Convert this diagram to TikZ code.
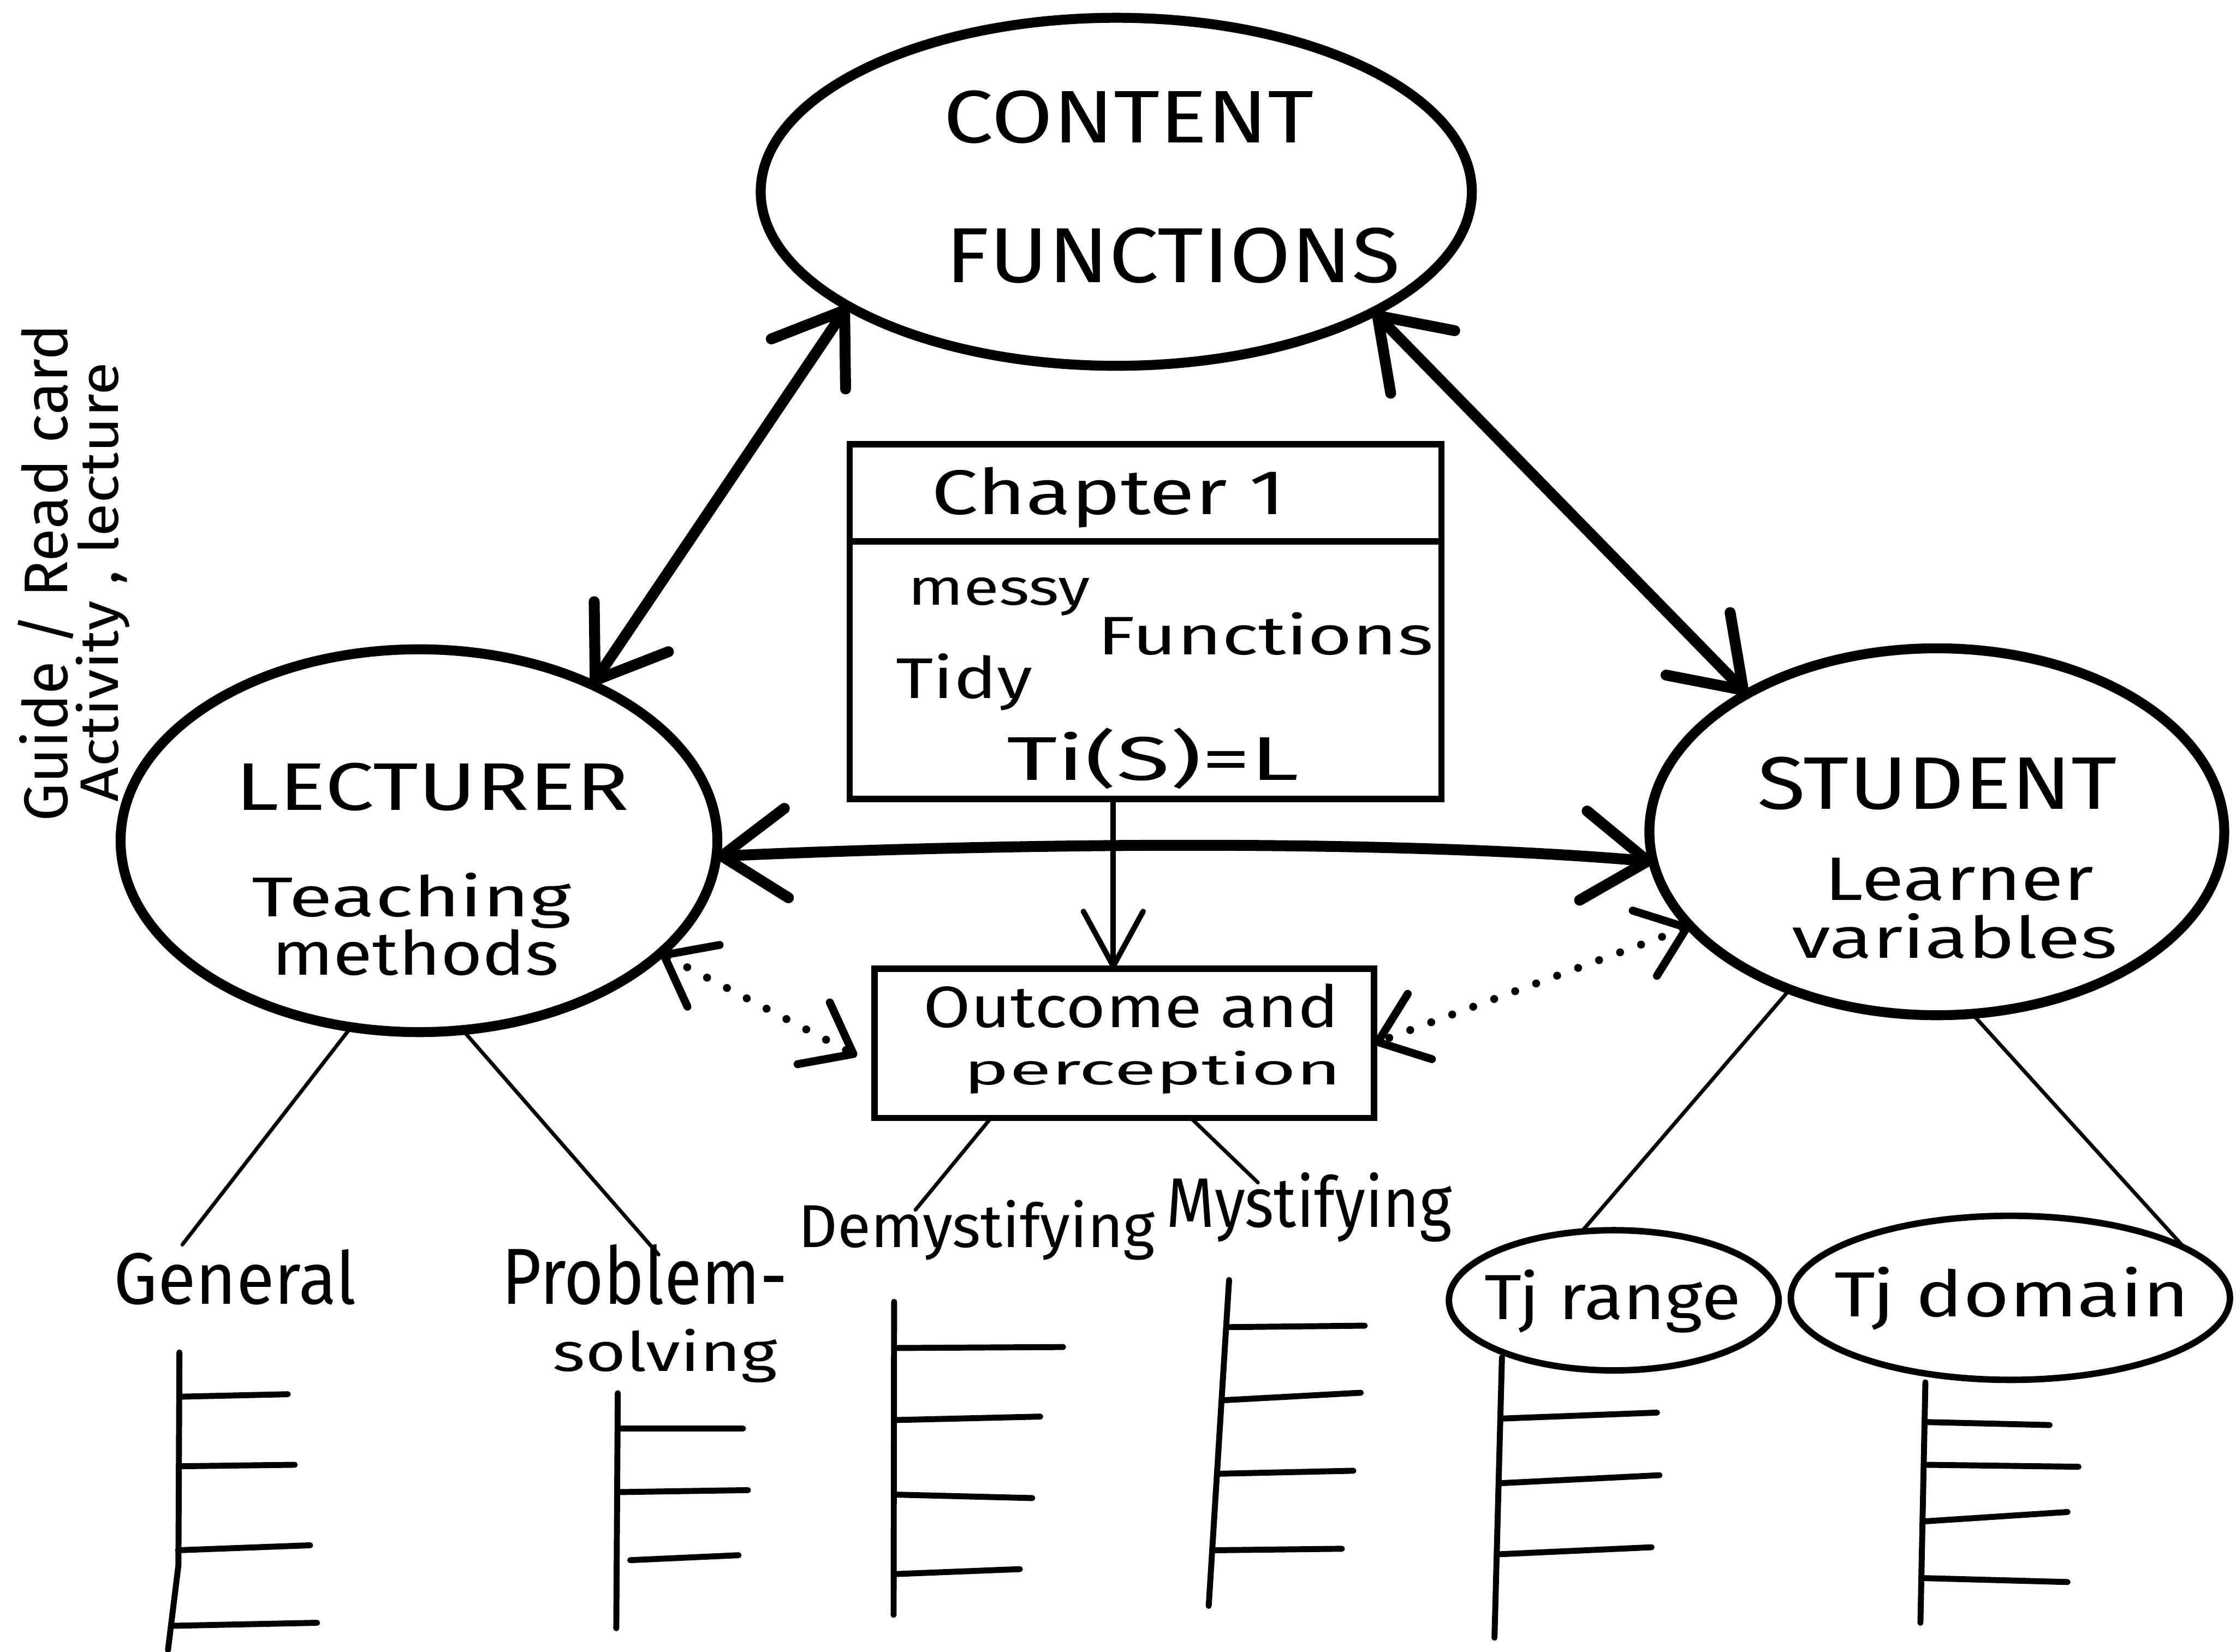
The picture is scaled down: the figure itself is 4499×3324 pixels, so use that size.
\documentclass[tikz,border=0pt]{standalone}
\usepackage{fontspec}
\setmainfont{Fira Sans}
\usetikzlibrary{arrows.meta,shapes.geometric}
\newcommand{\tx}[3]{\resizebox{#1}{#2}{#3}}
\begin{document}
\begin{tikzpicture}[x=0.01cm,y=-0.01cm,
  bub/.style={ellipse,draw,line width=0.2cm,inner sep=0,outer sep=0},
  sbub/.style={ellipse,draw,line width=0.13cm,inner sep=0,outer sep=0},
  boxn/.style={rectangle,draw,line width=0.13cm,inner sep=0,outer sep=0},
  lbl/.style={inner sep=0,outer sep=0,anchor=base},
  bigarrow/.style={line width=0.22cm,<->,>={Straight Barb[length=1.3cm,width=1.8cm,round]}},
  dotarrow/.style={line width=0.16cm,line cap=round,dash pattern=on 0pt off 0.45cm,<->,>={Straight Barb[length=0.9cm,width=1.4cm,round]}},
  vertarrow/.style={line width=0.11cm,->,>={Straight Barb[length=1.1cm,width=1.2cm,round]}},
  tree/.style={line width=0.075cm,line cap=round},
  comb/.style={line width=0.12cm,line cap=round}]
\fill[white] (0,0) rectangle (4499,3324);
\useasboundingbox (0,0) rectangle (4499,3324);

% main bubbles
\node[bub,minimum width=14.3cm,minimum height=7.0cm] (content) at (2246,386) {};
\node[lbl] (tcontent) at (2271,287) {\tx{7.45cm}{1.05cm}{CONTENT}};
\node[lbl] (tfunc) at (2360,568) {\tx{9.13cm}{1.1cm}{FUNCTIONS}};

\node[bub,minimum width=12.0cm,minimum height=7.7cm] (lecturer) at (843,1692) {};
\node[lbl] (tlect) at (870,1630) {\tx{7.91cm}{0.95cm}{LECTURER}};
\node[lbl] (tteach) at (828,1845) {\tx{6.42cm}{0.88cm}{Teaching}};
\node[lbl] (tmeth) at (836,1962) {\tx{5.77cm}{0.92cm}{methods}};

\node[bub,minimum width=11.56cm,minimum height=7.38cm] (student) at (3897,1674) {};
\node[lbl] (tstud) at (3898,1628) {\tx{7.23cm}{1.05cm}{STUDENT}};
\node[lbl] (tlearn) at (3942,1812) {\tx{5.4cm}{0.85cm}{Learner}};
\node[lbl] (tvar) at (3933,1928) {\tx{6.54cm}{0.9cm}{variables}};

% chapter box
\node[boxn,minimum width=11.9cm,minimum height=7.13cm] (chapter) at (2305,1251) {};
\draw[line width=0.13cm] ([yshift=-1.95cm]chapter.north west) -- ([yshift=-1.95cm]chapter.north east);
\node[lbl] (tchap) at (2230,1035) {\tx{7.11cm}{0.95cm}{Chapter 1}};
\node[lbl] (tmessy) at (2010,1218) {\tx{3.66cm}{0.55cm}{messy}};
\node[lbl] (tfuncs) at (2546,1318) {\tx{6.75cm}{0.85cm}{Functions}};
\node[lbl] (ttidy) at (1940,1405) {\tx{2.74cm}{0.9cm}{Tidy}};
\node[lbl] (tform) at (2320,1570) {\tx{5.88cm}{1.05cm}{Ti(S)=L}};

% outcome box
\node[boxn,minimum width=10.05cm,minimum height=3.0cm] (outcome) at (2262,2100) {};
\node[lbl] (tout) at (2276,2068) {\tx{8.35cm}{0.88cm}{Outcome and}};
\node[lbl] (tperc) at (2319,2183) {\tx{7.59cm}{0.68cm}{perception}};

% arrows
\draw[bigarrow] (content.203) -- (lecturer.42);
\draw[bigarrow] (content.335) -- (student.144);
\draw[bigarrow] (lecturer.357) .. controls (1950,1700) and (2750,1685) .. (student.186);
\draw[vertarrow] ([xshift=-0.65cm]chapter.south) -- ([xshift=-0.65cm]chapter.south |- outcome.north);
\draw[dotarrow] (lecturer.335) -- ([xshift=-0.35cm,yshift=-0.25cm]outcome.west);
\draw[dotarrow] (student.201) -- (outcome.east);

% sub labels
\node[lbl] (general) at (473,2625) {\tx{4.87cm}{1.1cm}{General}};
\node[lbl] (prob1) at (1297,2625) {\tx{5.74cm}{1.2cm}{Problem-}};
\node[lbl] (prob2) at (1338,2760) {\tx{4.51cm}{0.85cm}{solving}};
\node[lbl] (demyst) at (1965,2510) {\tx{7.17cm}{0.95cm}{Demystifying}};
\node[lbl] (myst) at (2634,2470) {\tx{5.74cm}{1.1cm}{Mystifying}};
\node[sbub,minimum width=6.63cm,minimum height=2.82cm] (tjr) at (3247,2617) {};
\node[lbl] (tjrl) at (3245,2655) {\tx{5.15cm}{1.0cm}{Tj range}};
\node[sbub,minimum width=8.83cm,minimum height=3.3cm] (tjd) at (4045,2612) {};
\node[lbl] (tjdl) at (4048,2650) {\tx{7.14cm}{1.0cm}{Tj domain}};

% tree lines
\draw[tree] (lecturer.250) -- ([xshift=-1.06cm,yshift=0.1cm]general.north);
\draw[tree] (lecturer.283) -- ([xshift=0.28cm,yshift=-0.2cm]prob1.north);
\draw[tree] ([xshift=-2.68cm]outcome.south) -- ([xshift=-1.23cm,yshift=-0.2cm]demyst.north);
\draw[tree] ([xshift=1.34cm]outcome.south) -- ([xshift=-1.03cm,yshift=-0.2cm]myst.north);
\draw[tree] (student.227) -- (tjr.115);
\draw[tree] (student.281) -- (tjd.16);

% combs
\draw[comb] (361,2722) -- (359,3150) -- (338,3321);
\draw[comb] (361,2811) -- (579,2806);
\draw[comb] (360,2951) -- (593,2948);
\draw[comb] (358,3120) -- (624,3110);
\draw[comb] (351,3272) -- (638,3266);

\draw[comb] (1243,2804) -- (1240,3277);
\draw[comb] (1243,2875) -- (1495,2875);
\draw[comb] (1243,3003) -- (1505,2999);
\draw[comb] (1268,3140) -- (1486,3130);

\draw[comb] (1799,2620) -- (1798,3250);
\draw[comb] (1799,2713) -- (2139,2711);
\draw[comb] (1800,2858) -- (2093,2851);
\draw[comb] (1800,3008) -- (2077,3015);
\draw[comb] (1800,3168) -- (2052,3158);

\draw[comb] (2473,2576) -- (2432,3232);
\draw[comb] (2472,2671) -- (2746,2668);
\draw[comb] (2463,2818) -- (2738,2803);
\draw[comb] (2454,2966) -- (2723,2960);
\draw[comb] (2444,3120) -- (2700,3117);

\draw[comb] (3022,2732) -- (3007,3296);
\draw[comb] (3021,2855) -- (3334,2843);
\draw[comb] (3020,2985) -- (3339,2969);
\draw[comb] (3018,3128) -- (3323,3114);

\draw[comb] (3874,2782) -- (3864,3266);
\draw[comb] (3874,2862) -- (4124,2868);
\draw[comb] (3872,2948) -- (4182,2952);
\draw[comb] (3870,3062) -- (4160,3043);
\draw[comb] (3867,3176) -- (4160,3184);

% margin notes
\node[inner sep=0,rotate=90] (note1) at (92,1153) {\tx{10cm}{1.0cm}{Guide / Read card}};
\node[inner sep=0,rotate=90] (note2) at (207,1172) {\tx{8.84cm}{0.85cm}{Activity , lecture}};
\end{tikzpicture}
\end{document}
